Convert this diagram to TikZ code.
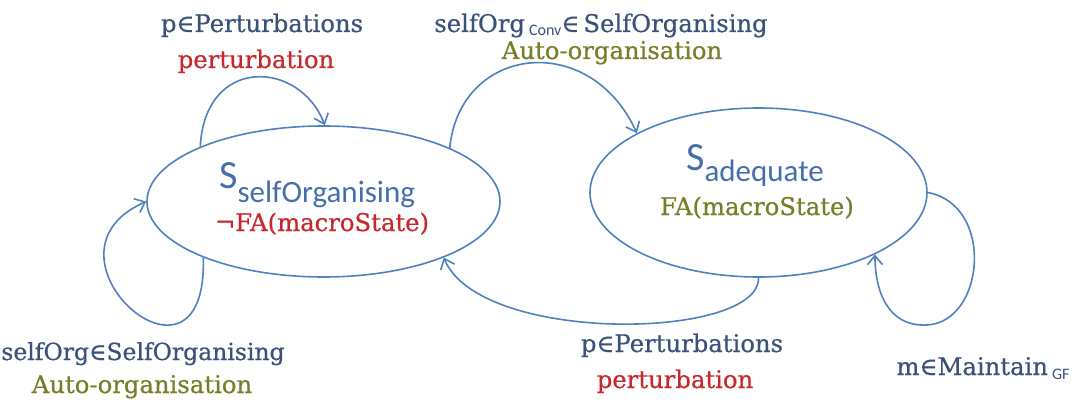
\documentclass[tikz,border=0pt]{standalone}
\usepackage{fontspec}
\setmainfont[FakeBold=0.6]{DejaVu Serif}
\newfontfamily\calib{Carlito}
\usetikzlibrary{shapes.geometric,arrows.meta}
\definecolor{lblue}{RGB}{79,129,189}
\definecolor{tblue}{RGB}{59,82,120}
\definecolor{sblue}{RGB}{70,110,170}
\definecolor{tred}{RGB}{200,40,45}
\definecolor{tolive}{RGB}{120,125,40}
\begin{document}
\begin{tikzpicture}[x=1pt,y=-1pt,
  state/.style={draw=lblue, line width=1.6pt, ellipse, inner sep=0pt},
  lbl/.style={font=\fontsize{24.3}{26}\selectfont, text=tblue, anchor=base, inner sep=0pt},
  sname/.style={font=\calib, text=sblue, anchor=base west, inner sep=0pt},
  conn/.style={draw=lblue, line width=1.6pt, -{Straight Barb[length=9pt,width=15pt,line width=1.6pt]}}]
\useasboundingbox (0,0) rectangle (1077,409);
% states
\node[state, minimum width=353pt, minimum height=151pt] (L) at (323.5,201.5) {};
\node[state, minimum width=337pt, minimum height=169pt] (R) at (758.5,192.5) {};
\node[sname] (Lname) at (219,189) {\fontsize{40}{42}\selectfont S\raisebox{-14pt}{\fontsize{31}{33}\selectfont selfOrganising}};
\node[lbl, text=tred] (Lcond) at (322,231) {¬FA(macroState)};
\node[sname] (Rname) at (686,171) {\fontsize{40}{42}\selectfont S\raisebox{-11pt}{\fontsize{31}{33}\selectfont adequate}};
\node[lbl, text=tolive] (Rcond) at (757,215) {FA(macroState)};
% connectors
\draw[conn] (L.156) .. controls (205,55) and (300,60) .. (L.89);
\draw[conn] (L.23) .. controls (460,45) and (590,30) .. (R.154);
\draw[conn] (L.205) .. controls (208,415) and (25,255) .. (L.west);
\draw[conn] (R.south) .. controls (760,340) and (480,345) .. (L.335);
\draw[conn] (R.east) .. controls (995,205) and (985,322) .. (927,325) .. controls (887,327) and (875,290) .. (R.332);
% labels
\node[lbl] (t1) at (262,32) {p∈Perturbations};
\node[lbl, text=tred] (t2) at (256,68) {perturbation};
\node[lbl] (t3) at (601,32) {selfOrg\,\raisebox{-4pt}{\calib\fontsize{16}{16}\selectfont Conv}∈\,SelfOrganising};
\node[lbl, text=tolive] (t4) at (612,59) {Auto-organisation};
\node[lbl, font=\fontsize{23.5}{25}\selectfont] (b1) at (143,360) {selfOrg∈SelfOrganising};
\node[lbl, text=tolive] (b2) at (142,393) {Auto-organisation};
\node[lbl] (b3) at (682,352) {p∈Perturbations};
\node[lbl, text=tred] (b4) at (675,388) {perturbation};
\node[lbl] (m1) at (983,375) {m∈Maintain\,\raisebox{-4pt}{\calib\fontsize{16}{16}\selectfont GF}};
\end{tikzpicture}
\end{document}
